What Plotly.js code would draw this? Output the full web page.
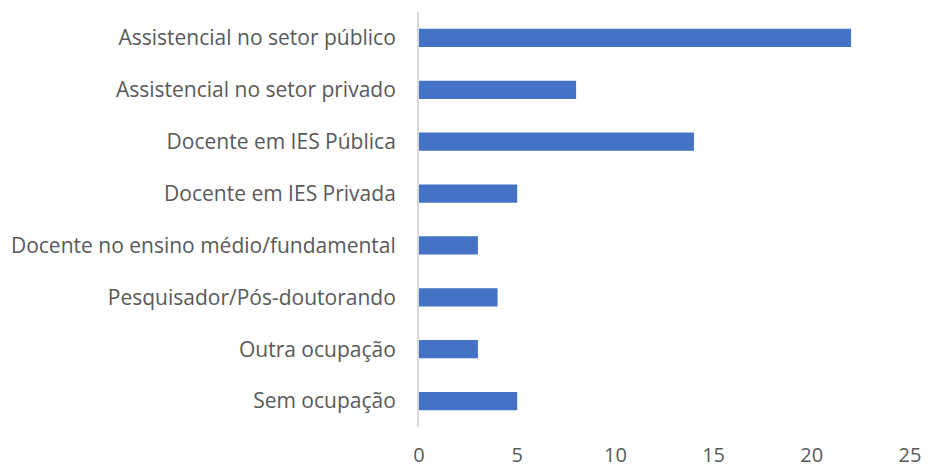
<!DOCTYPE html>
<html><head><meta charset="utf-8">
<script src="https://cdn.plot.ly/plotly-3.0.1.min.js"></script>
<style>body{margin:0;background:#fff}#c{width:928px;height:470px}</style>
</head><body><div id="c"></div>
<script>
const categories = ["Assistencial no setor público","Assistencial no setor privado","Docente em IES Pública","Docente em IES Privada","Docente no ensino médio/fundamental","Pesquisador/Pós-doutorando","Outra ocupação","Sem ocupação"];
const values = [22, 8, 14, 5, 3, 4, 3, 5];
const xTicks = [0, 5, 10, 15, 20, 25];

Plotly.newPlot('c', [{
  type: 'bar', orientation: 'h',
  x: values, y: categories,
  marker: {color: '#4472C4', line: {width: 0}},
  hoverinfo: 'none'
}], {
  width: 928, height: 470,
  margin: {l: 419, r: 18, t: 12, b: 43},
  bargap: 0.65,
  paper_bgcolor: '#fff', plot_bgcolor: '#fff',
  font: {family: '"Open Sans", sans-serif', size: 21, color: '#595959'},
  xaxis: {range: [0, 25], tickvals: xTicks, ticktext: xTicks.map(String), showgrid: false, zeroline: false, showline: false, ticks: '', ticklabelstandoff: 14, tickfont: {size: 20}, fixedrange: true},
  yaxis: {autorange: 'reversed', showgrid: false, zeroline: false, showline: true, linecolor: '#d9d9d9', linewidth: 2, ticks: '', ticklabelstandoff: 17, fixedrange: true},
  showlegend: false
}, {displayModeBar: false, staticPlot: true});
</script></body></html>
